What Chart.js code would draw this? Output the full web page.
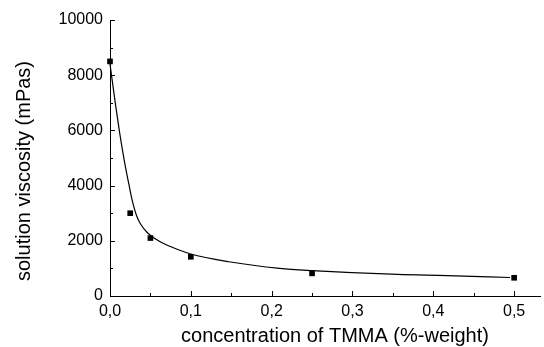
<!DOCTYPE html>
<html>
<head>
<meta charset="utf-8">
<script src="https://cdn.jsdelivr.net/npm/chart.js@4/dist/chart.umd.min.js"></script>
<style>
html,body{margin:0;padding:0;background:#fff;}
#wrap{width:544px;height:347px;}
</style>
</head>
<body>
<div id="wrap"><canvas id="c" width="544" height="347"></canvas></div>
<script>
// measured data points (concentration %-weight, viscosity mPas)
const concentration = [0, 0.025, 0.05, 0.1, 0.25, 0.5];
const viscosity = [8500, 3000, 2100, 1420, 820, 660];
// fitted curve
const curveX = [0, 0.007, 0.012, 0.018, 0.023, 0.028, 0.033, 0.038, 0.046, 0.06, 0.074, 0.1, 0.147, 0.21, 0.25, 0.356, 0.417, 0.495];
const curveY = [8400, 6900, 5900, 4850, 4100, 3400, 2900, 2600, 2300, 2000, 1800, 1520, 1240, 1000, 920, 780, 740, 670];
// tick labels
const xTicks = [0, 0.1, 0.2, 0.3, 0.4, 0.5];
const xMinorTicks = [0.05, 0.15, 0.25, 0.35, 0.45];
const yTicks = [0, 2000, 4000, 6000, 8000, 10000];
const yMinorTicks = [1000, 3000, 5000, 7000, 9000];
const xTitle = 'concentration of TMMA (%-weight)';
const yTitle = 'solution viscosity (mPas)';

const points = concentration.map((x, i) => ({x: x, y: viscosity[i]}));
const curve = curveX.map((x, i) => ({x: x, y: curveY[i]}));
const FONT = 'Liberation Sans, Arial, sans-serif';

const innerTicks = {
  id: 'innerTicks',
  afterDatasetsDraw(chart) {
    const ctx = chart.ctx;
    const xs = chart.scales.x, ys = chart.scales.y;
    const ca = chart.chartArea;
    ctx.save();
    ctx.strokeStyle = '#000';
    ctx.lineWidth = 1;
    ctx.beginPath();
    xTicks.forEach(v => { const p = Math.round(xs.getPixelForValue(v)) + 0.5; ctx.moveTo(p, ca.bottom); ctx.lineTo(p, ca.bottom - 5); });
    xMinorTicks.forEach(v => { const p = Math.round(xs.getPixelForValue(v)) + 0.5; ctx.moveTo(p, ca.bottom); ctx.lineTo(p, ca.bottom - 3); });
    yTicks.forEach(v => { const p = Math.round(ys.getPixelForValue(v)) + 0.5; ctx.moveTo(ca.left, p); ctx.lineTo(ca.left + 5, p); });
    yMinorTicks.forEach(v => { const p = Math.round(ys.getPixelForValue(v)) + 0.5; ctx.moveTo(ca.left, p); ctx.lineTo(ca.left + 3, p); });
    ctx.stroke();
    // axis titles
    ctx.fillStyle = '#000';
    ctx.font = '20px ' + FONT;
    ctx.textAlign = 'center';
    ctx.textBaseline = 'alphabetic';
    ctx.fillText(xTitle, 335, 342);
    ctx.translate(30, 171);
    ctx.rotate(-Math.PI / 2);
    ctx.fillText(yTitle, 0, 0);
    ctx.restore();
  }
};

new Chart(document.getElementById('c'), {
  type: 'scatter',
  data: {
    datasets: [
      {
        type: 'line',
        data: curve,
        borderColor: '#000',
        borderWidth: 1.2,
        pointRadius: 0,
        fill: false,
        cubicInterpolationMode: 'monotone',
        clip: false,
        order: 2
      },
      {
        type: 'scatter',
        data: points,
        pointStyle: 'rect',
        pointRadius: 4,
        backgroundColor: '#000',
        borderColor: '#000',
        borderWidth: 0,
        clip: false,
        order: 1
      }
    ]
  },
  options: {
    responsive: false,
    animation: false,
    devicePixelRatio: 1,
    layout: {padding: {left: 0, right: 0, top: 20, bottom: 0}},
    plugins: {legend: {display: false}, tooltip: {enabled: false}},
    scales: {
      x: {
        type: 'linear',
        min: 0,
        max: 0.532,
        afterBuildTicks(scale) { scale.ticks = xTicks.map(v => ({value: v})); },
        afterFit(scale) { scale.height = 51; },
        grid: {display: false, drawTicks: false},
        border: {display: true, color: '#000', width: 1},
        ticks: {
          color: '#000',
          padding: 6,
          maxRotation: 0,
          font: {family: FONT, size: 16},
          callback: v => v.toFixed(1).replace('.', ',')
        },
        title: {display: false}
      },
      y: {
        type: 'linear',
        min: 0,
        max: 10000,
        afterBuildTicks(scale) { scale.ticks = yTicks.map(v => ({value: v})); },
        afterFit(scale) { scale.width = 110; },
        grid: {display: false, drawTicks: false},
        border: {display: true, color: '#000', width: 1},
        ticks: {
          color: '#000',
          padding: 7,
          font: {family: FONT, size: 16},
          callback: v => String(v)
        },
        title: {display: false}
      }
    }
  },
  plugins: [innerTicks]
});
</script>
</body>
</html>
